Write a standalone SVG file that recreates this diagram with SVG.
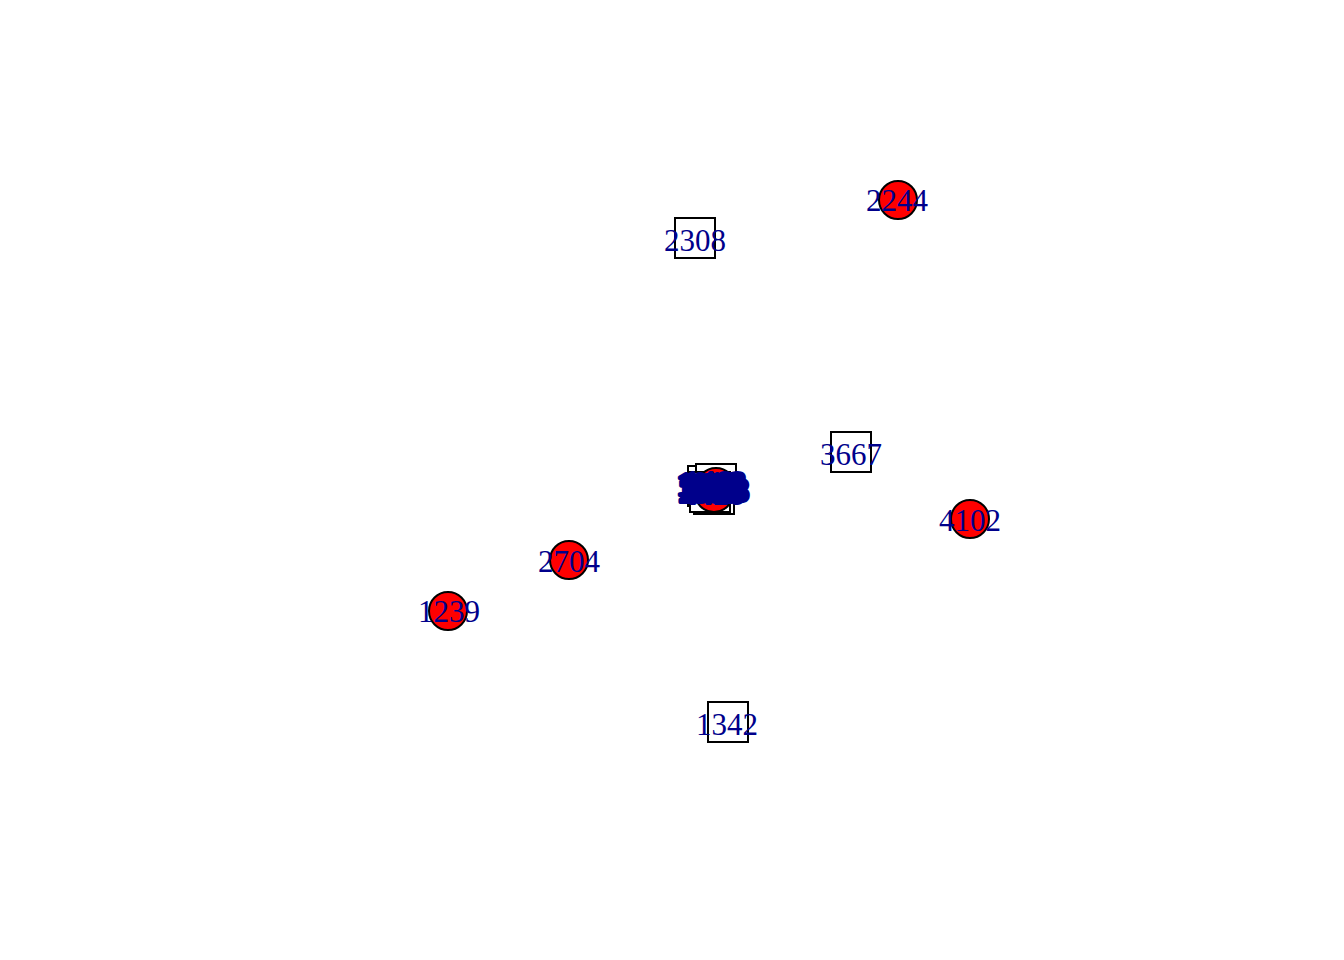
<svg xmlns="http://www.w3.org/2000/svg" width="1344" height="960" viewBox="0 0 1344 960">
<style>
.sq{fill:#fff;stroke:#000;stroke-width:2}
.ci{fill:#ff0000;stroke:#000;stroke-width:2}
.lb{font-family:"Liberation Serif","Times New Roman",serif;font-size:31px;fill:#00008b;text-anchor:middle}
.cl{stroke:#00008b;stroke-width:4;stroke-linejoin:round}
</style>
<rect width="1344" height="960" fill="#fff"/>
<g id="connectors"></g>
<g id="n2308"><rect class="sq" x="675" y="218" width="40" height="40"/><text class="lb" x="695" y="251">2308</text></g>
<g id="n2244"><circle class="ci" cx="898" cy="200" r="19"/><text class="lb" x="897" y="211">2244</text></g>
<g id="n3667"><rect class="sq" x="831" y="432" width="40" height="40"/><text class="lb" x="851" y="465">3667</text></g>
<g id="n4102"><circle class="ci" cx="970" cy="519" r="19"/><text class="lb" x="970" y="531">4102</text></g>
<g id="n2704"><circle class="ci" cx="569" cy="560" r="19"/><text class="lb" x="569" y="572">2704</text></g>
<g id="n1239"><circle class="ci" cx="448" cy="611" r="19"/><text class="lb" x="449" y="622">1239</text></g>
<g id="n1342"><rect class="sq" x="708" y="702" width="40" height="40"/><text class="lb" x="727" y="735">1342</text></g>
<g id="c1"><rect class="sq" x="688" y="466" width="40" height="40"/></g>
<g id="c2"><rect class="sq" x="696" y="464" width="40" height="40"/></g>
<g id="c3"><rect class="sq" x="694" y="474" width="40" height="40"/></g>
<g id="c4"><rect class="sq" x="690" y="472" width="40" height="40"/></g>
<g id="c5"><circle class="ci" cx="715" cy="490" r="19"/></g>
<g id="c6"><circle class="ci" cx="716" cy="487" r="19"/></g>
<g id="c7"><circle class="ci" cx="714" cy="493" r="19"/></g>
<g id="cluster-labels">
<text class="lb cl" x="708" y="495">1015</text>
<text class="lb cl" x="716" y="496">2381</text>
<text class="lb cl" x="712" y="500">3129</text>
<text class="lb cl" x="718" y="501">1788</text>
<text class="lb cl" x="710" y="502">2957</text>
<text class="lb cl" x="714" y="497">3540</text>
<text class="lb cl" x="713" y="503">4416</text>
<text class="lb cl" x="715" y="494">1463</text>
</g>
</svg>
